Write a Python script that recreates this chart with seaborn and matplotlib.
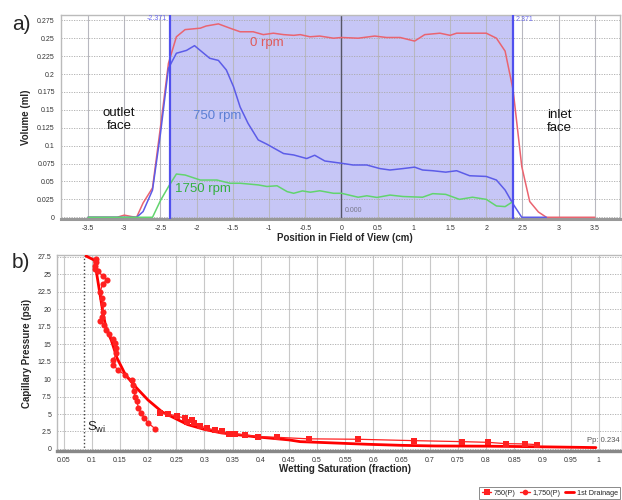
import numpy as np
import pandas as pd
import matplotlib
matplotlib.use("Agg")
import matplotlib.pyplot as plt
from matplotlib.ticker import MultipleLocator, FuncFormatter
from matplotlib.lines import Line2D
import seaborn as sns

sns.set_style("white")
plt.rcParams['font.family'] = ['Liberation Sans', 'DejaVu Sans']

# ---------------- panel a) data ----------------
red_x = [-3.5, -3.1, -3.0, -2.9, -2.83, -2.74, -2.61, -2.50, -2.39, -2.28, -2.16, -1.95, -1.87, -1.70,
         -1.54, -1.40, -1.22, -1.08, -0.94, -0.80, -0.66, -0.57, -0.435, -0.30, -0.11, 0.0, 0.23, 0.46,
         0.62, 0.81, 1.01, 1.15, 1.36, 1.50, 1.59, 2.00, 2.14, 2.26, 2.37, 2.49, 2.60, 2.72, 2.83, 3.5]
red_y = [0, 0, 0.003, 0.001, 0, 0.02, 0.041, 0.126, 0.215, 0.252, 0.262, 0.264, 0.267, 0.270,
         0.264, 0.259, 0.259, 0.255, 0.257, 0.255, 0.254, 0.255, 0.252, 0.253, 0.250, 0.251, 0.250, 0.253,
         0.251, 0.251, 0.246, 0.255, 0.257, 0.254, 0.257, 0.257, 0.250, 0.232, 0.178, 0.071, 0.022, 0.0074, 0, 0]

blue_x = [-3.5, -2.83, -2.74, -2.61, -2.50, -2.39, -2.28, -2.14, -2.03, -1.82, -1.70, -1.59, -1.49, -1.40,
          -1.29, -1.15, -1.03, -0.80, -0.66, -0.48, -0.37, -0.23, 0.0, 0.16, 0.35, 0.53, 0.67, 0.85, 1.01,
          1.12, 1.26, 1.44, 1.59, 1.77, 2.00, 2.14, 2.26, 2.37, 2.49, 2.83]
blue_y = [0, 0, 0.008, 0.038, 0.117, 0.208, 0.229, 0.233, 0.2396, 0.222, 0.219, 0.2056, 0.182, 0.154,
          0.131, 0.108, 0.102, 0.089, 0.087, 0.082, 0.0866, 0.0786, 0.0754, 0.073, 0.073, 0.068, 0.066, 0.068, 0.070,
          0.066, 0.065, 0.063, 0.065, 0.058, 0.057, 0.052, 0.038, 0.0186, 0, 0]

green_x = [-3.5, -2.61, -2.50, -2.39, -2.28, -2.16, -1.95, -1.72, -1.54, -1.40, -1.15, -1.03, -0.89, -0.75,
           -0.66, -0.54, -0.43, -0.30, -0.11, 0.0, 0.23, 0.35, 0.49, 0.67, 0.85, 1.12, 1.26, 1.44, 1.63,
           1.81, 2.00, 2.14, 2.26, 2.37]
green_y = [0, 0, 0.0234, 0.0427, 0.0604, 0.059, 0.052, 0.052, 0.0475, 0.0475, 0.0452, 0.043, 0.044, 0.0358,
           0.0335, 0.0368, 0.035, 0.037, 0.0335, 0.0335, 0.028, 0.030, 0.0277, 0.031, 0.029, 0.028, 0.033, 0.032, 0.025,
           0.028, 0.025, 0.0158, 0.0149, 0.022]

core_edge = 2.371

# ---------------- panel b) data ----------------
c1750_s = [0.107, 0.107, 0.106, 0.106, 0.111, 0.1195, 0.127, 0.1195, 0.115, 0.118, 0.1206, 0.1195, 0.118,
           0.115, 0.1224, 0.125, 0.131, 0.138, 0.141, 0.144, 0.144, 0.138, 0.138, 0.147, 0.159, 0.171,
           0.173, 0.175, 0.177, 0.180, 0.183, 0.187, 0.193, 0.2005, 0.2125]
c1750_p = [27.2, 26.8, 26.2, 25.8, 25.4, 24.8, 24.2, 23.6, 22.5, 21.6, 20.7, 19.6, 18.9,
           18.3, 17.7, 17.0, 16.4, 15.7, 15.1, 14.4, 13.7, 12.7, 12.0, 11.3, 10.6, 9.9,
           9.2, 8.3, 7.5, 6.8, 5.9, 5.2, 4.5, 3.7, 2.9]

c750_s = [0.221, 0.236, 0.251, 0.266, 0.269, 0.278, 0.281, 0.292, 0.304, 0.319, 0.331, 0.343, 0.355,
          0.372, 0.396, 0.429, 0.485, 0.572, 0.673, 0.757, 0.804, 0.835, 0.869, 0.891]
c750_p = [5.2, 5.0, 4.7, 4.4, 3.8, 4.1, 3.7, 3.3, 3.0, 2.7, 2.5, 2.2, 2.15,
          2.0, 1.76, 1.67, 1.45, 1.39, 1.19, 1.05, 0.95, 0.76, 0.72, 0.62]

drain_s = [0.09, 0.105, 0.11, 0.115, 0.12, 0.125, 0.135, 0.145, 0.16, 0.18, 0.20, 0.225, 0.25, 0.27,
           0.30, 0.33, 0.39, 0.45, 0.47, 0.53, 0.59, 0.65, 0.71, 0.80, 0.88, 0.95, 0.995]
drain_p = [27.6, 27.0, 24.5, 22.0, 19.5, 17.5, 15.5, 13.0, 10.6, 8.7, 7.0, 5.3, 4.3, 3.5,
           2.8, 2.3, 1.75, 1.3, 1.05, 0.86, 0.67, 0.52, 0.43, 0.40, 0.33, 0.25, 0.2]

swi = 0.087
pp_label = "Pp: 0.234"

fmt = FuncFormatter(lambda v, _: f"{v:g}")

fig = plt.figure(figsize=(6.22, 5.0), dpi=100)

# ================= panel a =================
ax1 = fig.add_axes([61/622, 1-219/500, 559/622, 204/500])
ax1.set_axisbelow(True)
ax1.axvspan(-core_edge, core_edge, color='#c6c6f6', zorder=0.2, lw=0)

dfa = pd.concat([
    pd.DataFrame({'x': red_x, 'y': red_y, 's': '0 rpm'}),
    pd.DataFrame({'x': blue_x, 'y': blue_y, 's': '750 rpm'}),
    pd.DataFrame({'x': green_x, 'y': green_y, 's': '1750 rpm'}),
])
pal = {'0 rpm': '#ea6470', '750 rpm': '#5c5ce8', '1750 rpm': '#62d46e'}
sns.lineplot(data=dfa, x='x', y='y', hue='s', palette=pal, sort=False, estimator=None,
             lw=1.1, ax=ax1, legend=False, zorder=3)

ax1.axvline(-core_edge, color='#5050ee', lw=1.6, zorder=4)
ax1.axvline(core_edge, color='#5050ee', lw=1.6, zorder=4)
ax1.axvline(0, color='#555566', lw=1.0, zorder=2)

ax1.set_xlim(-3.874, 3.847)
ax1.set_ylim(-0.0024, 0.2824)
ax1.xaxis.set_major_locator(MultipleLocator(0.5))
ax1.yaxis.set_major_locator(MultipleLocator(0.025))
ax1.xaxis.set_major_formatter(fmt)
ax1.yaxis.set_major_formatter(fmt)
ax1.grid(axis='x', color='#b8b8c0', lw=0.8, ls='-')
ax1.grid(axis='y', color='#aaaaaa', lw=0.6, ls=(0, (1.5, 1.5)))
ax1.tick_params(labelsize=5, colors='#333333', length=2.5, width=0.6, pad=2)

ax1.set_xlabel('Position in Field of View (cm)', fontsize=7, fontweight='bold')
ax1.set_ylabel('Volume (ml)', fontsize=7, fontweight='bold')
ax1.xaxis.set_label_coords(0.508, -0.07)
ax1.yaxis.set_label_coords(-0.054, 0.5)
for side in ['top', 'right', 'left']:
    ax1.spines[side].set_color('#bbbbbb')
    ax1.spines[side].set_linewidth(1.0)
ax1.spines['bottom'].set_color('#999999')
ax1.spines['bottom'].set_linewidth(2.2)

ax1.text(-core_edge - 0.04, 0.2775, f"-{core_edge:.3f}", color='#6a6af0', fontsize=5, ha='right', va='center')
ax1.text(core_edge + 0.04, 0.2765, f"{core_edge:.3f}", color='#6a6af0', fontsize=5, ha='left', va='center')
ax1.text(0.04, 0.009, "0.000", color='#777788', fontsize=5, ha='left', va='center')

ax1.text(-1.27, 0.2435, '0 rpm', color='#e05a5a', fontsize=9.5, ha='left', va='center')
ax1.text(-2.05, 0.141, '750 rpm', color='#5b7fd4', fontsize=9.5, ha='left', va='center')
ax1.text(-2.30, 0.0395, '1750 rpm', color='#35b040', fontsize=9.5, ha='left', va='center')
ax1.text(-3.07, 0.136, 'outlet\nface', color='#111111', fontsize=9.5, ha='center', va='center', linespacing=1.1)
ax1.text(2.84, 0.134, 'inlet\nface', color='#111111', fontsize=9.5, ha='left', va='center', linespacing=1.1)

# ================= panel b =================
ax2 = fig.add_axes([57/622, 1-451/500, 565/622, 196/500])
ax2.set_axisbelow(True)

dfd = pd.DataFrame({'s': drain_s, 'p': drain_p})
sns.lineplot(data=dfd, x='s', y='p', color='#ff0000', lw=2.0, sort=False, estimator=None, ax=ax2, zorder=3)

df750 = pd.DataFrame({'s': c750_s, 'p': c750_p})
sns.lineplot(data=df750, x='s', y='p', color='#ff2020', lw=0.9, sort=False, estimator=None, ax=ax2,
             marker='s', markersize=4.3, markeredgewidth=0, zorder=4)

df1750 = pd.DataFrame({'s': c1750_s, 'p': c1750_p})
sns.lineplot(data=df1750, x='s', y='p', color='#ff2020', lw=0.9, sort=False, estimator=None, ax=ax2,
             marker='o', markersize=4.4, markeredgewidth=0, zorder=4)

ax2.axvline(swi, color='#444444', lw=1.0, ls=(0, (1, 1.6)), zorder=2)
ax2.text(swi + 0.004, 3.1, r'S$_{\mathregular{wi}}$', fontsize=9.5, color='#222222', ha='left', va='center')
ax2.text(1.038, 1.25, pp_label, fontsize=5.5, color='#555555', ha='right', va='center')

ax2.set_xlim(0.0384, 1.0414)
ax2.set_ylim(-0.29, 27.75)
ax2.xaxis.set_major_locator(MultipleLocator(0.05))
ax2.yaxis.set_major_locator(MultipleLocator(2.5))
ax2.xaxis.set_major_formatter(fmt)
ax2.yaxis.set_major_formatter(fmt)
ax2.grid(axis='x', color='#c8c8c8', lw=0.8, ls='-')
ax2.grid(axis='y', color='#aaaaaa', lw=0.6, ls=(0, (1.5, 1.5)))
ax2.tick_params(labelsize=5, colors='#333333', length=2.5, width=0.6, pad=1.5)
ax2.set_xlabel('Wetting Saturation (fraction)', fontsize=7, fontweight='bold')
ax2.set_ylabel('Capillary Pressure (psi)', fontsize=7, fontweight='bold')
ax2.xaxis.set_label_coords(0.51, -0.068)
ax2.yaxis.set_label_coords(-0.044, 0.5)
for side in ['top', 'right', 'left']:
    ax2.spines[side].set_color('#bbbbbb')
    ax2.spines[side].set_linewidth(1.0)
ax2.spines['bottom'].set_color('#888888')
ax2.spines['bottom'].set_linewidth(2.4)

handles = [
    Line2D([], [], color='#ff2020', lw=1.0, marker='s', markersize=4, markeredgewidth=0),
    Line2D([], [], color='#ff2020', lw=1.0, marker='o', markersize=4, markeredgewidth=0),
    Line2D([], [], color='#ff0000', lw=2.0),
]
leg = fig.legend(handles, ['750(P)', '1,750(P)', '1st Drainage'], loc='lower right',
                 bbox_to_anchor=(621/622, 0.0), ncol=3, fontsize=5.2, frameon=True, fancybox=False,
                 borderpad=0.35, handlelength=1.3, handletextpad=0.3, columnspacing=0.7,
                 borderaxespad=0.1)
leg.get_frame().set_edgecolor('#555555')
leg.get_frame().set_linewidth(0.6)

fig.text(12/622, 1-25/500, 'a)', fontsize=15, ha='left', va='center')
fig.text(12/622, 1-262/500, 'b)', fontsize=15, ha='left', va='center')

fig.savefig('out.png', dpi=100)
